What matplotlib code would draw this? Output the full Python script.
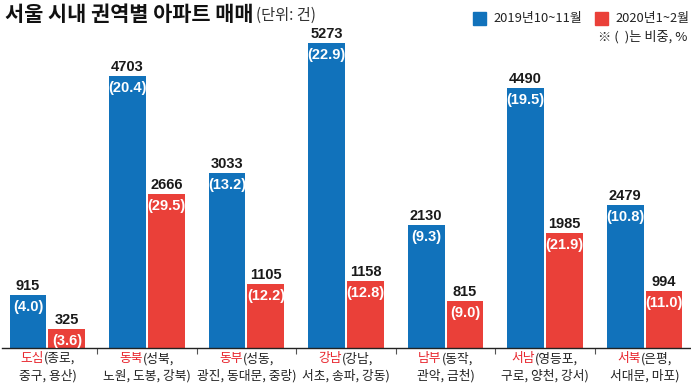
import matplotlib.pyplot as plt
import numpy as np
from matplotlib.patches import Rectangle

plt.rcParams['font.family'] = ['Noto Sans CJK KR', 'DejaVu Sans']

# 데이터
regions = ['도심', '동북', '동부', '강남', '남부', '서남', '서북']
districts_1 = ['(종로,', '(성북,', '(성동,', '(강남,', '(동작,', '(영등포,', '(은평,']
districts_2 = ['중구, 용산)', '노원, 도봉, 강북)', '광진, 동대문, 중랑)', '서초, 송파, 강동)',
               '관악, 금천)', '구로, 양천, 강서)', '서대문, 마포)']
sales_2019 = [915, 4703, 3033, 5273, 2130, 4490, 2479]
share_2019 = [4.0, 20.4, 13.2, 22.9, 9.3, 19.5, 10.8]
sales_2020 = [325, 2666, 1105, 1158, 815, 1985, 994]
share_2020 = [3.6, 29.5, 12.2, 12.8, 9.0, 21.9, 11.0]
legend_labels = ['2019년10~11월', '2020년1~2월']

BLUE = '#1172bb'
RED = '#ea4039'
W, H = 691, 392

fig = plt.figure(figsize=(W / 100, H / 100), dpi=100)
ax = fig.add_axes([2 / W, 44 / H, 689 / W, 348 / H])
ax.patch.set_alpha(0)

x = np.arange(len(regions))
bw, off = 0.37, 0.195
ax.bar(x - off, sales_2019, bw, color=BLUE)
ax.bar(x + off, sales_2020, bw, color=RED)
ax.set_xlim(-0.457, 6.467)
ax.set_ylim(0, 6016)

# 막대 라벨
num_font = dict(family='Liberation Sans', weight='bold', size=10.5)
for xs, vals, shares in [(x - off, sales_2019, share_2019), (x + off, sales_2020, share_2020)]:
    for xi, v, s in zip(xs, vals, shares):
        ax.annotate(f'{v}', (xi, v), xytext=(0, 2), textcoords='offset pixels',
                    ha='center', va='bottom', color='#1a1a1a', **num_font)
        ax.annotate(f'({s:.1f})', (xi, v), xytext=(0, -5), textcoords='offset pixels',
                    ha='center', va='top', color='white', **num_font)

# 축
for side in ['left', 'right', 'top']:
    ax.spines[side].set_visible(False)
ax.spines['bottom'].set_color('#222222')
ax.spines['bottom'].set_linewidth(1.0)
ax.set_yticks([])
ax.set_xticks(x[:-1] + 0.5)
ax.tick_params(axis='x', length=4, width=0.8, color='#555555', labelbottom=False)

# 권역 라벨
renderer = fig.canvas.get_renderer()
lab_size = 9.2
for xi, name, d1, d2 in zip(x, regions, districts_1, districts_2):
    t1 = ax.annotate(name, (xi, 0), xycoords=('data', 'axes fraction'), xytext=(0, -4),
                     textcoords='offset pixels', ha='left', va='top', color='#e8252d',
                     fontsize=lab_size)
    t2 = ax.annotate(d1, (xi, 0), xycoords=('data', 'axes fraction'), xytext=(0, -4),
                     textcoords='offset pixels', ha='left', va='top', color='#222222',
                     fontsize=lab_size)
    w1 = t1.get_window_extent(renderer).width
    w2 = t2.get_window_extent(renderer).width
    t1.xyann = (-(w1 + w2) / 2, -4)
    t2.xyann = (-(w1 + w2) / 2 + w1, -4)
    ax.annotate(d2, (xi, 0), xycoords=('data', 'axes fraction'), xytext=(0, -21),
                textcoords='offset pixels', ha='center', va='top', color='#222222',
                fontsize=lab_size)

# 제목
title = fig.text(5 / W, 1 - 21 / H, '서울 시내 권역별 아파트 매매', fontsize=15,
                 fontweight='bold', color='#111111', va='baseline')
tw = title.get_window_extent(renderer).width
fig.text((5 + tw + 3) / W, 1 - 20 / H, '(단위: 건)', fontsize=11, color='#333333',
         va='baseline')

# 범례
for (lx, tx), color, label in zip([(473, 493), (595, 615)], [BLUE, RED], legend_labels):
    fig.patches.append(Rectangle((lx / W, 1 - 25 / H), 13 / W, 13 / H,
                                 transform=fig.transFigure, color=color))
    fig.text(tx / W, 1 - 18.5 / H, label, fontsize=9.3, color='#222222', va='center')
fig.text(687 / W, 1 - 37 / H, '※ (  )는 비중, %', fontsize=9.5, color='#222222',
         ha='right', va='center')

fig.savefig('out.png', dpi=100)
plt.close(fig)
